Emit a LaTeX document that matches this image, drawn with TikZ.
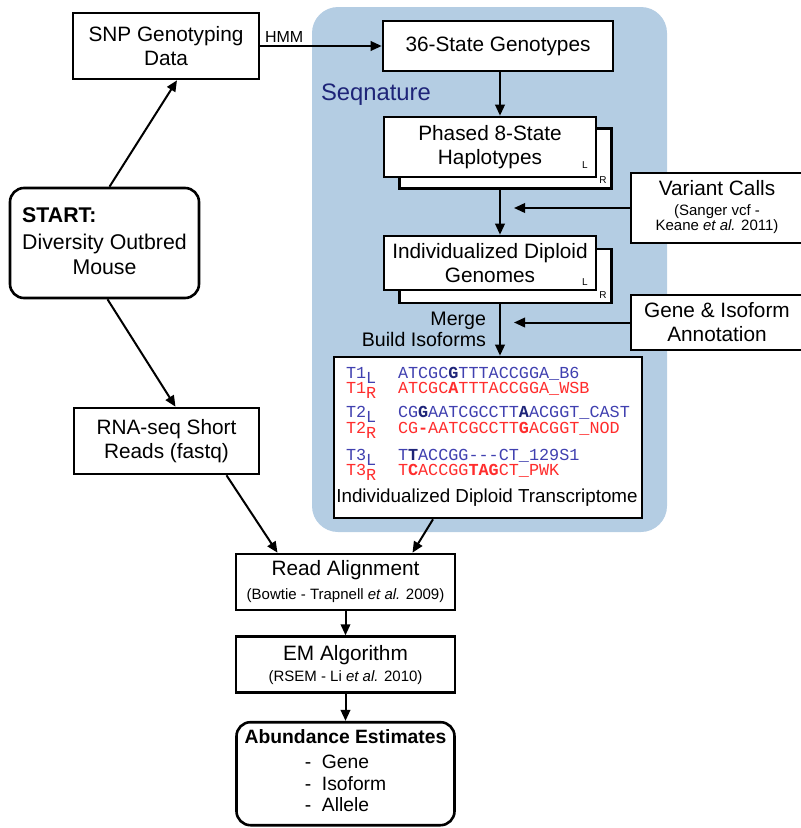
\documentclass[tikz,border=0pt]{standalone}
\usepackage{fontspec}
\setmainfont{Liberation Sans}
\newfontfamily\seqfont{Liberation Mono}
\usetikzlibrary{positioning, arrows.meta}

\definecolor{panelblue}{RGB}{180,205,227}
\definecolor{seqnavy}{RGB}{30,36,120}
\definecolor{seqblue}{RGB}{64,64,176}
\definecolor{seqred}{RGB}{255,45,45}
\newcommand{\mainsize}{\fontsize{20.8}{24}\selectfont}
\newcommand{\smallsize}{\fontsize{15}{15.5}\selectfont}
\newcommand{\seqsize}{\fontsize{16.8}{17}\selectfont}
\newcommand{\hb}[1]{{\bfseries #1}}
\newcommand{\hn}[1]{{\bfseries\color{seqnavy}#1}}

\begin{document}
\begin{tikzpicture}[x=1pt,y=-1pt,->,>={Triangle[length=11pt,width=9.5pt]},line width=2pt,node distance=27pt,
    box/.style={draw,rectangle,fill=white,line width=2.6pt,align=center,font=\mainsize,inner sep=2pt},
    round box/.style={box,rounded corners=14pt},
    tag/.style={font=\fontsize{10}{10}\selectfont,inner sep=0pt,anchor=base},
    seq/.style={font=\seqfont\seqsize,inner sep=0pt,anchor=base west}]

\useasboundingbox (0,0) rectangle (801,828);
\fill[panelblue, rounded corners=26pt] (312,7) rectangle (667,532);

\node[box, minimum width=186pt, minimum height=66pt] (snp)   at (166,46)  {SNP Genotyping\\Data};
\node[box, minimum width=230pt, minimum height=50pt] (geno)  at (498,46)  {36-State Genotypes};
\node[font=\fontsize{16}{16}\selectfont, anchor=base west, inner sep=0pt] (hmm) at (264,42) {HMM};
\node[font=\fontsize{23.8}{24}\selectfont, text=seqnavy, anchor=base west, inner sep=0pt] (seqnature) at (320,100) {Seqnature};

% haplotype and genome stacks
\node[box, minimum width=212pt, minimum height=60pt] (phasedR)  at (505.5,158.5) {};
\node[box, minimum width=212pt, minimum height=60pt] (phased)   at (490,147)     {Phased 8-State\\Haplotypes};
\node[tag] (phasedRtag) at (603,183) {R};
\node[tag] (phasedLtag) at (585,168) {L};
\node[box, minimum width=212pt, minimum height=54pt] (diploidR) at (505.5,276)   {};
\node[box, minimum width=212pt, minimum height=54pt] (diploid)  at (490,263)     {Individualized Diploid\\Genomes};
\node[tag] (diploidRtag) at (603,298) {R};
\node[tag] (diploidLtag) at (585,285) {L};

\node[box, minimum width=172pt, minimum height=70pt] (variant) at (717,208)
    {Variant Calls\\[-4pt]{\smallsize\begin{tabular}[t]{@{}c@{}}(Sanger vcf -\\Keane \textit{et al.} 2011)\end{tabular}}};
\node[box, minimum width=172pt, minimum height=55pt] (gene) at (717,322.5) {Gene \& Isoform\\Annotation};
\node[font=\fontsize{19.6}{21}\selectfont, align=right, anchor=east, inner sep=0pt] (merge) at (487,329) {Merge\\Build Isoforms};

% transcriptome
\node[box, minimum width=308pt, minimum height=161pt] (trans) at (488,437.5) {};
\foreach \yy/\tname/\sub/\col/\seq in {
  378/T1/L/seqblue/{ATCGC\hn{G}TTTACCGGA\_B6},
  393/T1/R/seqred/{ATCGC\hb{A}TTTACCGGA\_WSB},
  417/T2/L/seqblue/{CG\hn{G}AATCGCCTT\hn{A}ACGGT\_CAST},
  433/T2/R/seqred/{CG\hb{-}AATCGCCTT\hb{G}ACGGT\_NOD},
  460/T3/L/seqblue/{T\hn{T}ACCGG{-}{-}{-}CT\_129S1},
  475/T3/R/seqred/{T\hb{C}ACCGG\hb{TAG}CT\_PWK}}
{
  \node[seq, text=\col] (lab\tname\sub) at (345,\yy) {\tname\raisebox{-5pt}{\sub}};
  \node[seq, text=\col] (seq\tname\sub) at (397,\yy) {\seq};
}
\node[font=\fontsize{18.8}{19}\selectfont, anchor=base, inner sep=0pt] (transcap) at (487,502) {Individualized Diploid Transcriptome};

% left column
\node[round box, minimum width=189pt, minimum height=110pt, font=\fontsize{21.3}{25}\selectfont] (start) at (104.5,243)
    {\begin{tabular}{@{}c@{}}\multicolumn{1}{@{}l@{}}{\textbf{START:}}\\[2pt]Diversity Outbred\\Mouse\end{tabular}};
\node[box, minimum width=185pt, minimum height=66pt] (rna) at (166.5,441) {RNA-seq Short\\Reads (fastq)};

% bottom column
\node[box, minimum width=219pt, minimum height=56pt] (align) at (345.5,582)
    {Read Alignment\\{\smallsize(Bowtie - Trapnell \textit{et al.} 2009)}};
\node[box, minimum width=219pt, minimum height=56pt] (em) [below=24pt of align]
    {EM Algorithm\\[-3pt]{\smallsize(RSEM - Li \textit{et al.} 2010)}};
\node[round box, minimum width=218pt, minimum height=103pt, font=\fontsize{19.3}{21.5}\selectfont] (abund) [below=27pt of em]
    {\textbf{Abundance Estimates}\\[4pt]\begin{tabular}[t]{@{}l@{}}-~~Gene\\-~~Isoform\\-~~Allele\end{tabular}};

\coordinate (col)   at (500,0);
\coordinate (varin) at (514,0);

\draw (snp.east) -- (geno.west);
\draw ([xshift=5pt]start.north) -- ([xshift=11pt]snp.south);
\draw ([xshift=3pt]start.south) -- ([xshift=9pt]rna.north);
\draw (geno.south -| col) -- (phased.north -| col);
\draw (phasedR.south -| col) -- (diploid.north -| col);
\draw (diploidR.south -| col) -- (trans.north -| col);
\draw (variant.west) -- (variant.west -| varin);
\draw (gene.west) -- (gene.west -| varin);
\draw ([xshift=60pt]rna.south) -- ([xshift=-68pt]align.north);
\draw ([xshift=-55pt]trans.south) -- ([xshift=67pt]align.north);
\draw (align) -- (em);
\draw (em) -- (abund);
\end{tikzpicture}
\end{document}
